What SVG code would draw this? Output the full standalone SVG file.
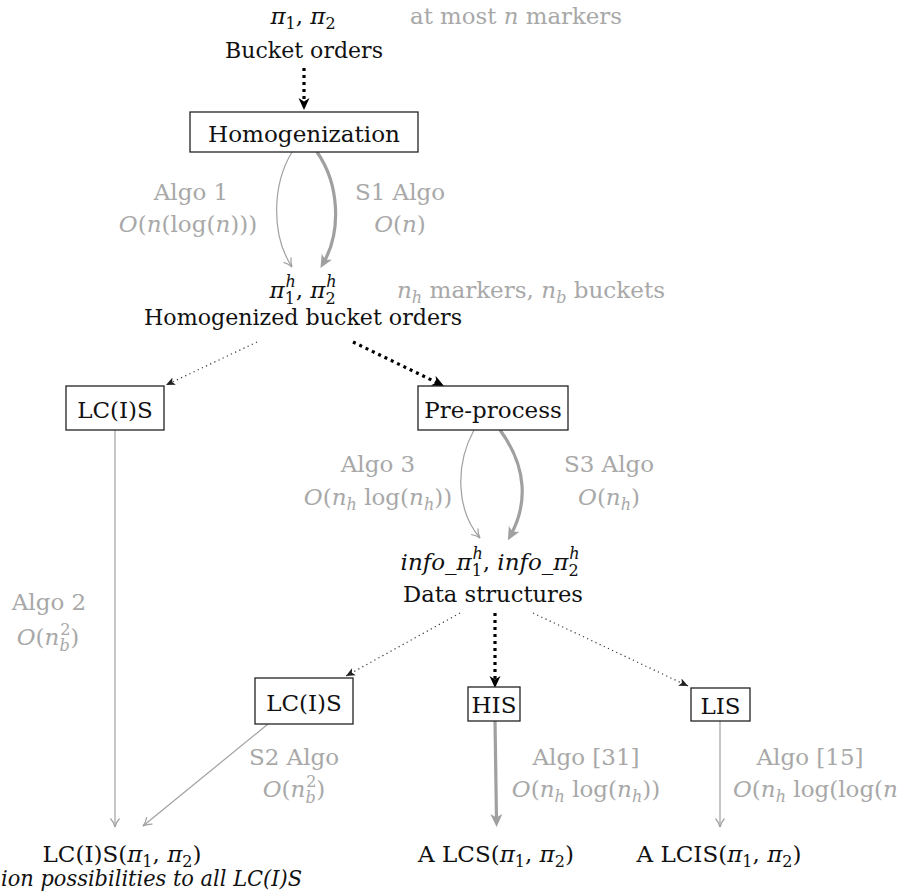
<svg xmlns="http://www.w3.org/2000/svg" width="904" height="894" viewBox="0 0 904 894">
<style>
text{font-family:"DejaVu Serif",serif;font-size:23px;fill:#111}
.g{fill:#a8a8a8}
.i{font-style:italic}
.s{font-size:16px}
.m{text-anchor:middle}
.box{fill:#fff;stroke:#222;stroke-width:1.3}
.thin{fill:none;stroke:#a0a0a0;stroke-width:1.2}
.thick{fill:none;stroke:#a0a0a0;stroke-width:3.2}
.dotb{fill:none;stroke:#000;stroke-width:3.2;stroke-dasharray:3 4}
.dott{fill:none;stroke:#333;stroke-width:1.2;stroke-dasharray:1.2 3.4}
</style>
<defs>
<marker id="ab" viewBox="0 0 12 12" refX="6" refY="6" markerWidth="12" markerHeight="12" markerUnits="userSpaceOnUse" orient="auto"><path d="M0,0.5 L12,6 L0,11.5 L3.5,6 Z" fill="#000"/></marker>
<marker id="ag" viewBox="0 0 13 13" refX="6.5" refY="6.5" markerWidth="13" markerHeight="13" markerUnits="userSpaceOnUse" orient="auto"><path d="M0,0.5 L13,6.5 L0,12.5 L3.5,6.5 Z" fill="#a0a0a0"/></marker>
<marker id="av" viewBox="0 0 10 12" refX="9.5" refY="6" markerWidth="10" markerHeight="12" markerUnits="userSpaceOnUse" orient="auto"><path d="M1,1.5 Q5,5 9.5,6 Q5,7 1,10.5" fill="none" stroke="#a0a0a0" stroke-width="1.2"/></marker>
<marker id="ad" viewBox="0 0 9 9" refX="9" refY="4.5" markerWidth="9" markerHeight="9" markerUnits="userSpaceOnUse" orient="auto"><path d="M0,0.5 L9,4.5 L0,8.5 L2.2,4.5 Z" fill="#222"/></marker>
</defs>

<g id="connectors">
<path class="dotb" d="M304,68 L304,104" marker-end="url(#ab)"/>
<path class="thin" d="M292,152 C272,185 271,235 292,267" marker-end="url(#av)"/>
<path class="thick" d="M317,152 C340,185 341,232 323.7,262.3" marker-end="url(#ag)"/>
<path class="dott" d="M257,342 L166,385" marker-end="url(#ad)"/>
<path class="dotb" d="M353,342 L438.6,383.4" marker-end="url(#ab)"/>
<path class="thin" d="M115,430 L115,827" marker-end="url(#av)"/>
<path class="thin" d="M474,430 C455,465 456,510 480,538" marker-end="url(#av)"/>
<path class="thick" d="M500,430 C528,468 527,505 511,534.5" marker-end="url(#ag)"/>
<path class="dott" d="M460,613 L346,676" marker-end="url(#ad)"/>
<path class="dotb" d="M495,613 L495,682" marker-end="url(#ab)"/>
<path class="dott" d="M533,613 L688,686" marker-end="url(#ad)"/>
<path class="thin" d="M268,724 L143,826" marker-end="url(#av)"/>
<path class="thick" d="M495,720 L496.5,820.5" marker-end="url(#ag)"/>
<path class="thin" d="M720,721 L720,827" marker-end="url(#av)"/>
</g>

<g id="edge-labels">
<text class="g m" x="191" y="200">Algo 1</text>
<text class="g m" x="188" y="232"><tspan class="i">O</tspan>(<tspan class="i">n</tspan>(log(<tspan class="i">n</tspan>)))</text>
<text class="g m" x="400" y="200">S1 Algo</text>
<text class="g m" x="400" y="232"><tspan class="i">O</tspan>(<tspan class="i">n</tspan>)</text>
<text class="g m" x="378" y="472">Algo 3</text>
<text class="g m" x="378" y="505"><tspan class="i">O</tspan>(<tspan class="i">n</tspan><tspan class="s i" dy="5">h</tspan><tspan dy="-5"> log(</tspan><tspan class="i">n</tspan><tspan class="s i" dy="5">h</tspan><tspan dy="-5">))</tspan></text>
<text class="g m" x="609" y="472">S3 Algo</text>
<text class="g m" x="609" y="505"><tspan class="i">O</tspan>(<tspan class="i">n</tspan><tspan class="s i" dy="5">h</tspan><tspan dy="-5">)</tspan></text>
<text class="g m" x="49" y="610">Algo 2</text>
<text class="g m" x="48" y="645"><tspan class="i">O</tspan>(<tspan class="i">n</tspan><tspan class="s i" dy="6">b</tspan><tspan class="s" dx="-9.5" dy="-16">2</tspan><tspan dy="10">)</tspan></text>
<text class="g m" x="294" y="765">S2 Algo</text>
<text class="g m" x="294" y="797"><tspan class="i">O</tspan>(<tspan class="i">n</tspan><tspan class="s i" dy="6">b</tspan><tspan class="s" dx="-9.5" dy="-16">2</tspan><tspan dy="10">)</tspan></text>
<text class="g m" x="586" y="765">Algo [31]</text>
<text class="g m" x="586" y="797"><tspan class="i">O</tspan>(<tspan class="i">n</tspan><tspan class="s i" dy="5">h</tspan><tspan dy="-5"> log(</tspan><tspan class="i">n</tspan><tspan class="s i" dy="5">h</tspan><tspan dy="-5">))</tspan></text>
<text class="g m" x="810" y="765">Algo [15]</text>
<text class="g" x="733" y="797"><tspan class="i">O</tspan>(<tspan class="i">n</tspan><tspan class="s i" dy="5">h</tspan><tspan dy="-5"> log(log(</tspan><tspan class="i">n</tspan></text>
</g>

<g id="bucket-orders">
<text class="m" x="303" y="24"><tspan class="i">π</tspan><tspan class="s" dy="5">1</tspan><tspan dy="-5">, </tspan><tspan class="i">π</tspan><tspan class="s" dy="5">2</tspan></text>
<text class="m" x="304" y="58" textLength="158" lengthAdjust="spacingAndGlyphs">Bucket orders</text>
<text class="g" x="410" y="24" textLength="212" lengthAdjust="spacingAndGlyphs">at most <tspan class="i">n</tspan> markers</text>
</g>

<g id="homogenization">
<rect class="box" x="190" y="112" width="228" height="40"/>
<text class="m" x="304" y="142" textLength="192" lengthAdjust="spacingAndGlyphs">Homogenization</text>
</g>

<g id="homogenized-orders">
<text class="m" x="303" y="298"><tspan class="i">π</tspan><tspan class="s" dy="6">1</tspan><tspan class="s i" dx="-9.5" dy="-17">h</tspan><tspan dy="11">, </tspan><tspan class="i">π</tspan><tspan class="s" dy="6">2</tspan><tspan class="s i" dx="-9.5" dy="-17">h</tspan></text>
<text class="g" x="397" y="298" textLength="268" lengthAdjust="spacingAndGlyphs"><tspan class="i">n</tspan><tspan class="s i" dy="5">h</tspan><tspan dy="-5"> markers, </tspan><tspan class="i">n</tspan><tspan class="s i" dy="5">b</tspan><tspan dy="-5"> buckets</tspan></text>
<text class="m" x="303" y="325" textLength="318" lengthAdjust="spacingAndGlyphs">Homogenized bucket orders</text>
</g>

<g id="lcis-left">
<rect class="box" x="66" y="386" width="98" height="44"/>
<text class="m" x="115" y="418">LC(I)S</text>
</g>

<g id="preprocess">
<rect class="box" x="418" y="386" width="150" height="44"/>
<text class="m" x="493" y="418">Pre-process</text>
</g>

<g id="data-structures">
<text class="m" x="490" y="570"><tspan class="i">info_π</tspan><tspan class="s" dy="6">1</tspan><tspan class="s i" dx="-9.5" dy="-17">h</tspan><tspan dy="11">, </tspan><tspan class="i">info_π</tspan><tspan class="s" dy="6">2</tspan><tspan class="s i" dx="-9.5" dy="-17">h</tspan></text>
<text class="m" x="493" y="602" textLength="180" lengthAdjust="spacingAndGlyphs">Data structures</text>
</g>

<g id="lcis-mid">
<rect class="box" x="255" y="678" width="98" height="46"/>
<text class="m" x="304" y="711">LC(I)S</text>
</g>

<g id="his">
<rect class="box" x="468" y="687" width="52" height="34"/>
<text class="m" x="494" y="713">HIS</text>
</g>

<g id="lis">
<rect class="box" x="691" y="688" width="59" height="33"/>
<text class="m" x="720.5" y="714">LIS</text>
</g>

<g id="result-lcis-all">
<text class="m" x="122" y="862">LC(I)S(<tspan class="i">π</tspan><tspan class="s" dy="5">1</tspan><tspan dy="-5">, </tspan><tspan class="i">π</tspan><tspan class="s" dy="5">2</tspan><tspan dy="-5">)</tspan></text>
<text class="i" x="1" y="886" textLength="301" lengthAdjust="spacingAndGlyphs">ion possibilities to all LC(I)S</text>
</g>

<g id="result-lcs">
<text class="m" x="496" y="862">A LCS(<tspan class="i">π</tspan><tspan class="s" dy="5">1</tspan><tspan dy="-5">, </tspan><tspan class="i">π</tspan><tspan class="s" dy="5">2</tspan><tspan dy="-5">)</tspan></text>
</g>

<g id="result-lcis">
<text class="m" x="719" y="862">A LCIS(<tspan class="i">π</tspan><tspan class="s" dy="5">1</tspan><tspan dy="-5">, </tspan><tspan class="i">π</tspan><tspan class="s" dy="5">2</tspan><tspan dy="-5">)</tspan></text>
</g>
</svg>
